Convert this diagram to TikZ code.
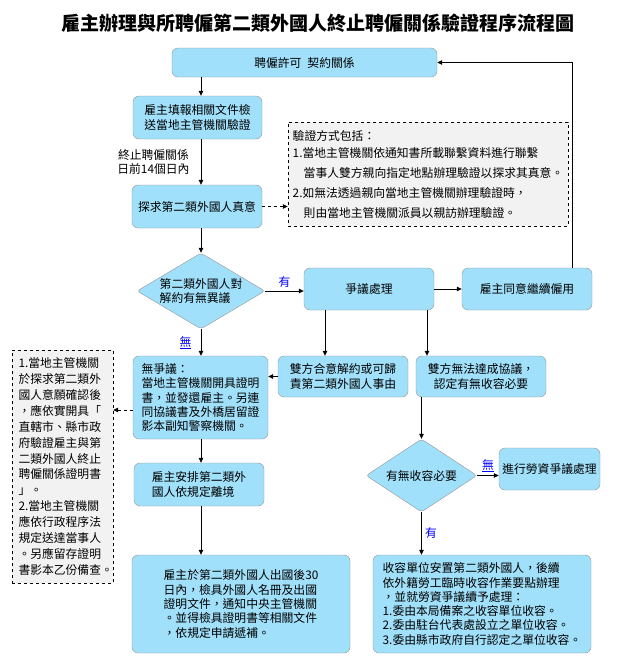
\documentclass[tikz,border=0pt]{standalone}
\usepackage{fontspec}
\setmainfont{Noto Sans CJK TC}
\usetikzlibrary{arrows.meta,shapes.geometric}
\definecolor{boxfill}{RGB}{161,224,250}
\definecolor{boxline}{RGB}{150,150,150}
\definecolor{notefill}{RGB}{242,242,242}
\definecolor{labblue}{RGB}{0,0,255}
\begin{document}
\begin{tikzpicture}[x=1pt, y=-1pt,
    box/.style={draw=boxline, fill=boxfill, rounded corners=6pt, inner sep=0pt, font=\fontsize{11.8}{14.3}\selectfont},
    decide/.style={diamond, draw=boxline, fill=boxfill, rounded corners=3pt, inner sep=0pt, font=\fontsize{11.8}{14.3}\selectfont},
    note/.style={draw=black, dashed, fill=notefill, inner sep=0pt},
    arr/.style={-{Triangle[length=5pt, width=4.5pt]}, black, line width=0.8pt},
    yes/.style={text=labblue, font=\fontsize{11.8}{14}\selectfont}]
    \fill[white] (0,0) rectangle (617,667);
    \useasboundingbox (0,0) rectangle (617,667);
    \node[font=\fontsize{19}{22}\selectfont\bfseries] (title) at (318,23) {雇主辦理與所聘僱第二類外國人終止聘僱關係驗證程序流程圖};
    % left column
    \node[box, minimum width=265pt, minimum height=29pt] (permit) at (304.5,62.5) {聘僱許可\hspace{6pt}契約關係};
    \node[box, minimum width=129pt, minimum height=43pt, align=center] (file) at (197.5,117.5) {雇主填報相關文件檢\\送當地主管機關驗證};
    \node[box, minimum width=130pt, minimum height=43pt] (probe) at (197,206.5) {探求第二類外國人真意};
    \node[note, minimum width=280pt, minimum height=104pt, align=left, font=\fontsize{11.8}{20}\selectfont] (means) at (428,174) {驗證方式包括：\\[-3pt]
        1.當地主管機關依通知書所載聯繫資料進行聯繫\\
        \hspace*{11pt}當事人雙方親向指定地點辦理驗證以探求其真意。\\
        2.如無法透過親向當地主管機關辦理驗證時，\\
        \hspace*{11pt}則由當地主管機關派員以親訪辦理驗證。};
    \node[decide, aspect=1.68, minimum width=128pt, minimum height=76pt, align=left] (object) at (201,291) {第二類外國人對\\解約有無異議};
    \node[box, minimum width=130pt, minimum height=42pt] (dispute) at (369,289) {爭議處理};
    \node[box, minimum width=130pt, minimum height=42pt] (rehire) at (527,289) {雇主同意繼續僱用};
    \node[box, minimum width=130pt, minimum height=41pt, align=center] (mutual) at (343,376.5) {雙方合意解約或可歸\\責第二類外國人事由};
    \node[box, minimum width=130pt, minimum height=41pt, align=center] (nodeal) at (481,376.5) {雙方無法達成協議，\\認定有無收容必要};
    \node[box, minimum width=135pt, minimum height=83pt, align=left] (clear) at (200.5,397.5) {無爭議：\\當地主管機關開具證明\\書，並發還雇主。另連\\同協議書及外橋居留證\\影本副知警察機關。};
    \node[note, text width=88pt, inner xsep=6.5pt, minimum height=233pt, align=left, font=\fontsize{11.8}{15.9}\selectfont] (duty) at (62.5,466.5) {1.當地主管機關\\於探求第二類外\\國人意願確認後\\，應依實開具「\\直轄市、縣市政\\府驗證雇主與第\\二類外國人終止\\聘僱關係證明書\\」。\\2.當地主管機關\\應依行政程序法\\規定送達當事人\\。另應留存證明\\書影本乙份備查。};
    \node[box, minimum width=130pt, minimum height=43pt, align=left] (depart) at (199,484.5) {雇主安排第二類外\\國人依規定離境};
    \node[box, minimum width=218pt, minimum height=98pt, align=left] (notify) at (241,604) {雇主於第二類外國人出國後30\\日內，檢具外國人名冊及出國\\證明文件，通知中央主管機關\\。並得檢具證明書等相關文件\\，依規定申請遞補。};
    % right column
    \node[decide, aspect=1.52, minimum width=111pt, minimum height=73pt] (shelterq) at (421.5,475.5) {有無收容必要};
    \node[box, minimum width=101pt, minimum height=42pt] (labor) at (549.5,469) {進行勞資爭議處理};
    \node[box, minimum width=218pt, minimum height=98pt, align=left] (shelter) at (482,604) {收容單位安置第二類外國人，後續\\依外籍勞工臨時收容作業要點辦理\\，並就勞資爭議續予處理：\\1.委由本局備案之收容單位收容。\\2.委由駐台代表處設立之單位收容。\\3.委由縣市政府自行認定之單位收容。};
    % connectors
    \coordinate (spine) at (201,0);
    \coordinate (split1) at (325,0);
    \coordinate (split2) at (427,0);
    \coordinate (loop) at (572,62.5);
    \coordinate (side) at (0,410);
    \draw[arr] (permit.south -| spine) to (file.north -| spine);
    \draw[arr] (file.south -| spine) to (probe.north -| spine);
    \path (file.south -| spine) -- (probe.north -| spine) node [midway, left=8pt, align=center, font=\fontsize{11.8}{14}\selectfont] (deadline) {終止聘僱關係\\日前14個日內};
    \draw[arr, dashed] (probe.east) to (means.west |- probe.east);
    \draw[arr] (probe.south -| spine) to (object.north);
    \draw[arr] (object.east) to (dispute.west |- object.east);
    \path (object.east) -- (dispute.west |- object.east) node [midway, above, yes] (yes1) {有};
    \draw[arr] (dispute.east) to (rehire.west);
    \draw[arr] (rehire.north -| loop) -- (loop) to (permit.east);
    \draw[arr] (object.south) to (clear.north -| object.south);
    \path (object.south) -- (clear.north -| object.south) node [midway, left=6pt, yes] (no1) {\underline{無}};
    \draw[arr] (dispute.south -| split1) to (mutual.north -| split1);
    \draw[arr] (dispute.south -| split2) to (nodeal.north -| split2);
    \draw[arr] (mutual.west) to (clear.east |- mutual.west);
    \draw[arr, dashed] (clear.west |- side) to (duty.east |- side);
    \draw[arr] (clear.south -| spine) to (depart.north -| spine);
    \draw[arr] (depart.south -| spine) to (notify.north -| spine);
    \draw[arr] (nodeal.south -| shelterq) to (shelterq.north);
    \draw[arr] (shelterq.east) to (labor.west |- shelterq.east);
    \path (shelterq.east) -- (labor.west |- shelterq.east) node [midway, above, yes] (no2) {\underline{無}};
    \draw[arr] (shelterq.south) to (shelter.north -| shelterq.south);
    \path (shelterq.south) -- (shelter.north -| shelterq.south) node [midway, right, yes] (yes2) {有};
\end{tikzpicture}
\end{document}
